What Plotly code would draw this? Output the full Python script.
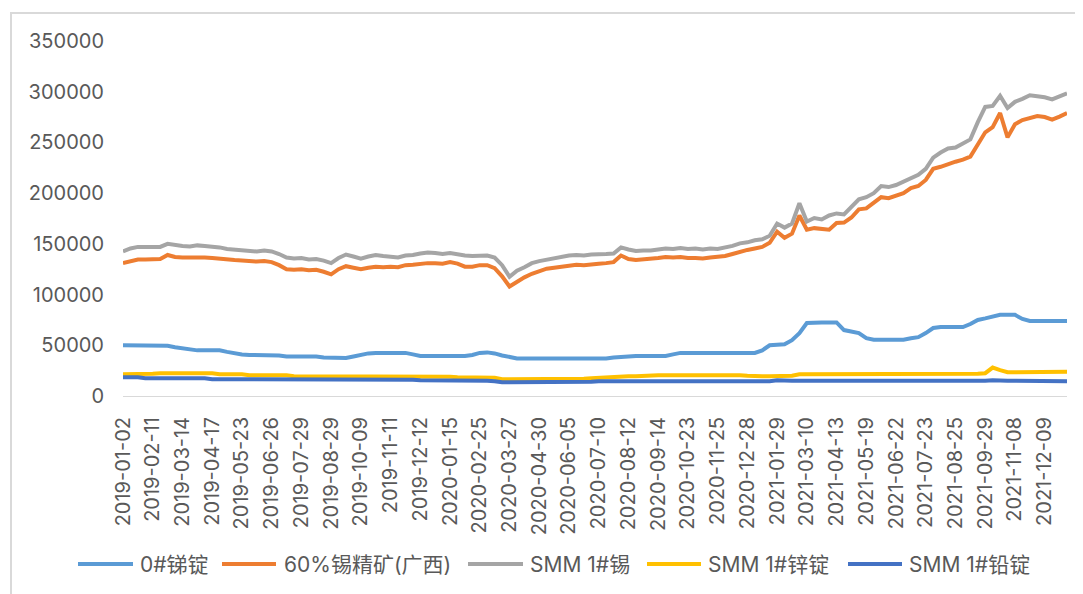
import plotly.graph_objects as go

# Category dates (trading days sampled roughly weekly)
dates = [
    "2019-01-02", "2019-01-09", "2019-01-17", "2019-01-25",
    "2019-02-11", "2019-02-19", "2019-02-26", "2019-03-06",
    "2019-03-14", "2019-03-21", "2019-03-29", "2019-04-08",
    "2019-04-17", "2019-04-24", "2019-05-06", "2019-05-14",
    "2019-05-23", "2019-05-30", "2019-06-10", "2019-06-18",
    "2019-06-26", "2019-07-03", "2019-07-11", "2019-07-19",
    "2019-07-29", "2019-08-05", "2019-08-12", "2019-08-21",
    "2019-08-29", "2019-09-05", "2019-09-12", "2019-09-24",
    "2019-10-09", "2019-10-16", "2019-10-24", "2019-10-31",
    "2019-11-11", "2019-11-18", "2019-11-26", "2019-12-04",
    "2019-12-12", "2019-12-19", "2019-12-27", "2020-01-07",
    "2020-01-15", "2020-01-22", "2020-02-07", "2020-02-17",
    "2020-02-25", "2020-03-04", "2020-03-11", "2020-03-19",
    "2020-03-27", "2020-04-03", "2020-04-14", "2020-04-22",
    "2020-04-30", "2020-05-13", "2020-05-20", "2020-05-28",
    "2020-06-05", "2020-06-12", "2020-06-19", "2020-07-01",
    "2020-07-10", "2020-07-17", "2020-07-27", "2020-08-04",
    "2020-08-12", "2020-08-19", "2020-08-27", "2020-09-04",
    "2020-09-14", "2020-09-21", "2020-09-28", "2020-10-15",
    "2020-10-23", "2020-10-30", "2020-11-09", "2020-11-17",
    "2020-11-25", "2020-12-02", "2020-12-10", "2020-12-18",
    "2020-12-28", "2021-01-06", "2021-01-13", "2021-01-21",
    "2021-01-29", "2021-02-05", "2021-02-22", "2021-03-02",
    "2021-03-10", "2021-03-17", "2021-03-25", "2021-04-01",
    "2021-04-13", "2021-04-20", "2021-04-27", "2021-05-11",
    "2021-05-19", "2021-05-26", "2021-06-02", "2021-06-09",
    "2021-06-22", "2021-06-29", "2021-07-07", "2021-07-15",
    "2021-07-23", "2021-07-30", "2021-08-09", "2021-08-17",
    "2021-08-25", "2021-09-01", "2021-09-09", "2021-09-17",
    "2021-09-29", "2021-10-13", "2021-10-20", "2021-10-28",
    "2021-11-08", "2021-11-15", "2021-11-22", "2021-11-30",
    "2021-12-09", "2021-12-16", "2021-12-23", "2021-12-31",
]

tick_labels = [
    "2019-01-02", "2019-02-11", "2019-03-14", "2019-04-17", "2019-05-23",
    "2019-06-26", "2019-07-29", "2019-08-29", "2019-10-09", "2019-11-11",
    "2019-12-12", "2020-01-15", "2020-02-25", "2020-03-27", "2020-04-30",
    "2020-06-05", "2020-07-10", "2020-08-12", "2020-09-14", "2020-10-23",
    "2020-11-25", "2020-12-28", "2021-01-29", "2021-03-10", "2021-04-13",
    "2021-05-19", "2021-06-22", "2021-07-23", "2021-08-25", "2021-09-29",
    "2021-11-08", "2021-12-09",
]

antimony = [
    50000, 50000, 50000, 50000, 50000, 50000, 49500, 48000,
    47000, 46000, 45000, 45000, 45000, 45000, 43500, 42000,
    41000, 40500, 40500, 40500, 40500, 40000, 39000, 39000,
    39000, 39000, 39000, 38000, 37500, 37500, 37500, 39000,
    41000, 42000, 42500, 42500, 42500, 42500, 42500, 41000,
    39500, 39500, 39500, 39500, 39500, 39500, 39500, 40500,
    42500, 43000, 42000, 40000, 38000, 37000, 37000, 37000,
    37000, 37000, 37000, 37000, 37000, 37000, 37000, 37000,
    37000, 37000, 38000, 38500, 39500, 39500, 39500, 39500,
    39500, 39500, 41000, 42500, 42500, 42500, 42500, 42500,
    42500, 42500, 42500, 42500, 42500, 42500, 45000, 50000,
    50500, 51000, 55000, 62000, 72000, 72500, 72500, 72500,
    72500, 65000, 64000, 62000, 57000, 55500, 55500, 55500,
    55500, 55500, 57000, 58000, 62000, 67000, 68000, 68000,
    68000, 68000, 71000, 75000, 76500, 78000, 80000, 80000,
    80000, 76000, 74000, 74000, 74000, 74000, 74000, 74000,
]

tin_ore_60 = [
    131000, 133000, 134500, 134500, 135000, 135000, 139000, 137000,
    136500, 136500, 137000, 136500, 136000, 135000, 134500, 134000,
    133500, 133000, 132500, 133000, 132000, 129000, 125000, 124500,
    125000, 124000, 124500, 122500, 120000, 125000, 128000, 126500,
    125000, 126500, 127500, 127000, 127500, 127000, 129000, 129500,
    130500, 131000, 131000, 130500, 132000, 130500, 127500, 127500,
    129000, 129000, 126000, 118000, 108000, 113000, 117000, 120500,
    123500, 125500, 126500, 127500, 128500, 129500, 129000, 130000,
    130500, 131000, 132000, 138500, 135000, 134000, 134500, 135000,
    136000, 137000, 136500, 137000, 136000, 136000, 135500, 136500,
    137000, 138000, 140000, 142500, 144000, 145500, 147000, 151000,
    162000, 156000, 160000, 178000, 164000, 165500, 165000, 164000,
    170500, 171000, 176000, 184000, 185000, 190000, 196000, 195000,
    197000, 200000, 205000, 207000, 213000, 224000, 226000, 229000,
    231000, 233000, 236000, 248000, 260000, 265000, 279000, 255000,
    268000, 272000, 274000, 276000, 275000, 272500, 275500, 279000,
]

tin_smm = [
    142500, 145500, 147000, 147000, 147500, 147000, 150000, 148500,
    148000, 147500, 148500, 148000, 147500, 146500, 145000, 144500,
    143500, 143000, 142500, 143500, 142500, 140000, 136500, 135500,
    136000, 134500, 135000, 133500, 131000, 136000, 139500, 137500,
    135500, 137500, 139000, 138000, 137000, 136500, 138500, 139000,
    140500, 141500, 141000, 140000, 141000, 139500, 138500, 138000,
    138500, 138500, 136500, 129000, 117500, 123500, 127000, 131000,
    133000, 134500, 136000, 137500, 138500, 139000, 138500, 139500,
    139500, 140000, 140500, 146500, 144500, 143000, 143500, 143500,
    144500, 145500, 145000, 146000, 145000, 145500, 144500, 145500,
    145000, 146000, 148000, 150500, 151500, 153500, 154500, 158000,
    170000, 166000, 170000, 190000, 172000, 175500, 174000, 178000,
    180000, 179000, 186000, 194000, 196000, 200000, 207000, 206000,
    208000, 211000, 215000, 218000, 224000, 235000, 240000, 244000,
    245000, 248500, 253000, 270000, 285000, 286000, 296000, 284000,
    290000, 293000, 296500, 295500, 294500, 292500, 295500, 298500,
]

zinc_smm = [
    21500, 21500, 21500, 21500, 22000, 22500, 22500, 22500,
    22500, 22500, 22500, 22500, 22500, 21500, 21500, 21500,
    21500, 20500, 20500, 20500, 20500, 20500, 20500, 19500,
    19500, 19500, 19500, 19500, 19500, 19500, 19500, 19000,
    19000, 19000, 19000, 19000, 19000, 19000, 19000, 19000,
    19000, 19000, 19000, 19000, 19000, 18500, 18500, 18500,
    18500, 18500, 18000, 16500, 16500, 16500, 16500, 16500,
    16500, 17000, 17000, 17000, 17000, 17000, 17000, 17500,
    18000, 18000, 18500, 19000, 19500, 19500, 20000, 20000,
    20500, 20500, 20500, 20500, 20500, 20500, 20500, 20500,
    20500, 21000, 21000, 20500, 20000, 19500, 19500, 19500,
    19500, 19500, 20000, 21500, 21500, 21500, 21500, 21500,
    21500, 21500, 22000, 22000, 22000, 22000, 22000, 22000,
    22000, 22000, 22000, 22000, 22000, 22000, 22000, 22000,
    22000, 22000, 22000, 22000, 22500, 28000, 25500, 23500,
    23500, 23500, 23500, 23500, 23500, 23500, 24000, 24000,
]

lead_smm = [
    18500, 18500, 18500, 17500, 17500, 17500, 17500, 17500,
    17500, 17500, 17500, 17500, 16500, 16500, 16500, 16500,
    16500, 16500, 16500, 16500, 16500, 16500, 16500, 16500,
    16500, 16500, 16500, 16500, 16000, 16000, 16500, 16500,
    16500, 16500, 16000, 16000, 16000, 16000, 16000, 16000,
    15500, 15500, 15500, 15500, 15500, 15000, 15000, 15000,
    15000, 15000, 14500, 13500, 13500, 13500, 13500, 13500,
    13500, 13500, 13500, 13500, 13500, 13500, 13500, 14000,
    14500, 14500, 14500, 14500, 14500, 14500, 14500, 15000,
    15000, 15000, 15000, 14500, 14500, 14500, 14500, 14500,
    14500, 14500, 14500, 14500, 14500, 14500, 14500, 14500,
    15500, 15000, 15000, 15000, 15000, 15000, 15000, 15000,
    15000, 15000, 15000, 15000, 15000, 15000, 15000, 15000,
    15000, 15000, 15000, 15000, 15000, 15000, 15000, 15000,
    15000, 15000, 14500, 14500, 15000, 15500, 15000, 15000,
    15000, 15000, 15000, 15000, 15000, 15000, 14500, 14500,
]

series_names = ["0#锑锭", "60%锡精矿(广西)", "SMM 1#锡", "SMM 1#锌锭", "SMM 1#铅锭"]
series_values = [antimony, tin_ore_60, tin_smm, zinc_smm, lead_smm]
series_colors = ["#5B9BD5", "#ED7D31", "#A5A5A5", "#FFC000", "#4472C4"]

FONT = "Inter, Liberation Sans, Noto Sans CJK SC, sans-serif"
TXT = "#595959"

# The page body has an 8px default margin; the figure is sized to fit it.
OFF = 8
W, H = 1083 - OFF, 594 - OFF
L, R, T, B = 123 - OFF, 16, 41 - OFF, 198
pw, ph = W - L - R, H - T - B


def px_x(screen_x):
    return (screen_x - OFF - L) / pw


def px_y(screen_y):
    return (H - B - (screen_y - OFF)) / ph


fig = go.Figure()
for name, vals, color in zip(series_names, series_values, series_colors):
    fig.add_trace(go.Scatter(
        x=dates, y=vals, name=name, mode="lines",
        line=dict(color=color, width=4), showlegend=False,
    ))

# Custom legend (long line keys like the original)
legend_lines = [(78, 133), (222, 276), (468, 523), (647, 701), (848, 902)]
legend_text_x = [138, 282, 528, 706, 907]
legend_y = px_y(564)
shapes = [dict(
    type="rect", xref="paper", yref="paper",
    x0=px_x(11), x1=px_x(1100), y0=px_y(620), y1=px_y(13),
    line=dict(color="#D9D9D9", width=2), fillcolor="rgba(0,0,0,0)",
    layer="below",
)]
annotations = []
for (x0, x1), tx, name, color in zip(legend_lines, legend_text_x, series_names, series_colors):
    shapes.append(dict(
        type="line", xref="paper", yref="paper",
        x0=px_x(x0), x1=px_x(x1), y0=legend_y, y1=legend_y,
        line=dict(color=color, width=4),
    ))
    annotations.append(dict(
        xref="paper", yref="paper", x=px_x(tx), y=legend_y,
        xanchor="left", yanchor="middle", showarrow=False, text=name,
        font=dict(family=FONT, size=21, color=TXT),
    ))

fig.update_layout(
    width=W, height=H,
    margin=dict(l=L, r=R, t=T, b=B),
    paper_bgcolor="white", plot_bgcolor="white",
    font=dict(family=FONT, size=20, color=TXT),
    showlegend=False,
    xaxis=dict(
        type="category",
        categoryorder="array", categoryarray=dates,
        range=[0, len(dates) - 1],
        tickmode="array", tickvals=tick_labels, ticktext=tick_labels,
        tickangle=-90, showgrid=False, zeroline=False,
        showline=True, linecolor="#D9D9D9", linewidth=1,
        ticks="", ticklabelstandoff=12,
        tickfont=dict(family=FONT, size=20, color=TXT),
    ),
    yaxis=dict(
        range=[0, 350000], dtick=50000, tick0=0, tickformat="d",
        showgrid=False, zeroline=False, showline=False, ticks="",
        ticklabelstandoff=18,
        tickfont=dict(family=FONT, size=20, color=TXT),
    ),
    shapes=shapes,
    annotations=annotations,
)

fig.write_html("out.html")
